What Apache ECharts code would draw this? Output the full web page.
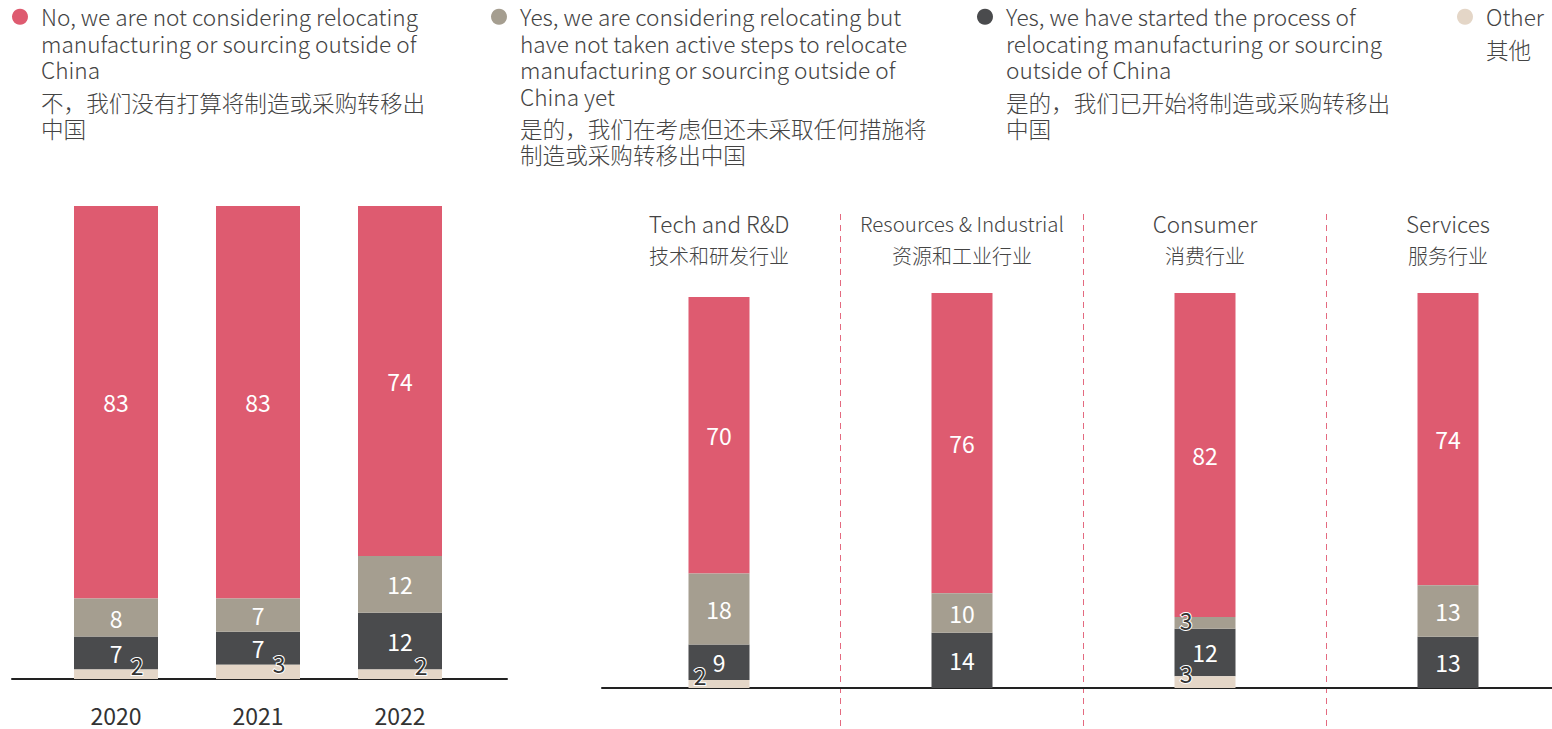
<!DOCTYPE html>
<html>
<head>
<meta charset="utf-8">
<script src="https://cdn.jsdelivr.net/npm/echarts@6/dist/echarts.min.js"></script>
<style>
  html, body { margin: 0; padding: 0; background: #fff; }
  #chart { width: 1552px; height: 729px; }
</style>
</head>
<body>
<div id="chart"></div>
<script>
// series names (legend keys)
const seriesNames = [
  'No, we are not considering relocating manufacturing or sourcing outside of China',
  'Yes, we are considering relocating but have not taken active steps to relocate manufacturing or sourcing outside of China yet',
  'Yes, we have started the process of relocating manufacturing or sourcing outside of China',
  'Other'
];
const legendEn = [
  ['No, we are not considering relocating', 'manufacturing or sourcing outside of', 'China'],
  ['Yes, we are considering relocating but', 'have not taken active steps to relocate', 'manufacturing or sourcing outside of', 'China yet'],
  ['Yes, we have started the process of', 'relocating manufacturing or sourcing', 'outside of China'],
  ['Other']
];
const legendCn = [
  ['不，我们没有打算将制造或采购转移出', '中国'],
  ['是的，我们在考虑但还未采取任何措施将', '制造或采购转移出中国'],
  ['是的，我们已开始将制造或采购转移出', '中国'],
  ['其他']
];

// left panel: by year
const years = ['2020', '2021', '2022'];
const yearNot = [83, 83, 74];
const yearConsidering = [8, 7, 12];
const yearStarted = [7, 7, 12];
const yearOther = [2, 3, 2];

// right panel: by industry
const industryEn = ['Tech and R&D', 'Resources & Industrial', 'Consumer', 'Services'];
const industryCn = ['技术和研发行业', '资源和工业行业', '消费行业', '服务行业'];
const industryNot = [70, 76, 82, 74];
const industryConsidering = [18, 10, 3, 13];
const industryStarted = [9, 14, 12, 13];
const industryOther = [2, 0, 3, 0];

const FONT = '"Noto Sans CJK SC", "Noto Sans", sans-serif';
const colors = ['#de5b70', '#a59e90', '#4a4b4d', '#e4d6c7'];
const textColor = '#444';

const EN_LH = 26.5, GAP_LH = 6, CN_LH = 26;

function makeLegend(i, iconCenterX) {
  const en = legendEn[i], cn = legendCn[i];
  const below = EN_LH * (en.length - 1) + GAP_LH + CN_LH * cn.length;
  const base = { fontFamily: FONT, fontSize: 22.6, fontWeight: 300, color: textColor, padding: [0, 0, 0, 8] };
  return {
    data: [seriesNames[i]],
    left: iconCenterX - 8,
    top: 3 - below / 2,
    padding: 0,
    icon: 'circle',
    itemWidth: 16,
    itemHeight: 16,
    selectedMode: false,
    formatter: () => '{sp| }\n{en|' + en.join('\n') + '}\n{gap| }\n{cn|' + cn.join('\n') + '}',
    textStyle: {
      rich: {
        sp: { fontSize: 1, lineHeight: below },
        en: Object.assign({ lineHeight: EN_LH }, base),
        gap: { fontSize: 1, lineHeight: GAP_LH },
        cn: Object.assign({ lineHeight: CN_LH }, base)
      }
    }
  };
}

function toData(values, smallOffset) {
  return values.map(v => (v > 0 && v < 5)
    ? { value: v, label: { color: '#333', textBorderColor: '#fff', textBorderWidth: 2, offset: smallOffset } }
    : v);
}

function bar(idx, values, xi, yi, width, stack, smallOffset, z) {
  return {
    name: seriesNames[idx],
    type: 'bar',
    stack: stack,
    xAxisIndex: xi,
    yAxisIndex: yi,
    barWidth: width,
    z: z,
    itemStyle: { color: colors[idx] },
    label: {
      show: true,
      position: 'inside',
      color: '#fff',
      fontSize: 23,
      fontFamily: FONT,
      formatter: p => (p.value > 0 ? String(p.value) : '')
    },
    emphasis: { disabled: true },
    data: toData(values, smallOffset)
  };
}

const headerText = { lineHeight: 32, color: textColor, fontFamily: FONT, fontWeight: 300 };
const baseLine = { show: true, lineStyle: { color: '#222', width: 2 } };

const chart = echarts.init(document.getElementById('chart'), null, { renderer: 'svg' });

chart.setOption({
  backgroundColor: '#fff',
  animation: false,
  textStyle: { fontFamily: FONT },
  legend: [
    makeLegend(0, 20),
    makeLegend(1, 499),
    makeLegend(2, 985),
    makeLegend(3, 1465)
  ],
  grid: [
    { left: 45, width: 426, top: 206, bottom: 50, outerBoundsMode: 'none' },        // years
    { left: 597.5, width: 972, top: 293, bottom: 41, outerBoundsMode: 'none' },     // industries
    { left: 12, width: 495, top: 206, bottom: 50, outerBoundsMode: 'none' },        // baseline of years panel
    { left: 597.5, width: 972, top: 214, bottom: 0, outerBoundsMode: 'none' },      // industry dividers
    { left: 602, right: 0, top: 293, bottom: 41, outerBoundsMode: 'none' }          // baseline of industry panel
  ],
  xAxis: [
    {
      type: 'category', gridIndex: 0, data: years,
      axisLine: { show: false }, axisTick: { show: false },
      axisLabel: { margin: 24, fontSize: 23, color: '#333', fontFamily: FONT }
    },
    {
      type: 'category', gridIndex: 1, data: industryEn, position: 'bottom',
      axisLine: { show: false }, axisTick: { show: false }, axisLabel: { show: false }
    },
    {
      type: 'category', gridIndex: 1, data: industryEn, position: 'top',
      axisLine: { show: false }, axisTick: { show: false },
      axisLabel: {
        margin: 22,
        formatter: (v, i) => '{' + (v.length > 15 ? 'enLong' : 'en') + '|' + v + '}\n{cn|' + industryCn[i] + '}',
        rich: {
          en: Object.assign({ fontSize: 22.5 }, headerText),
          enLong: Object.assign({ fontSize: 20.5 }, headerText),
          cn: Object.assign({ fontSize: 20 }, headerText)
        }
      }
    },
    {
      type: 'category', gridIndex: 2, data: [''],
      axisLine: baseLine, axisTick: { show: false }, axisLabel: { show: false }
    },
    {
      type: 'category', gridIndex: 3, data: industryEn,
      axisLine: { show: false }, axisTick: { show: false }, axisLabel: { show: false },
      splitLine: {
        show: true, showMinLine: false, showMaxLine: false,
        lineStyle: { color: '#e46a80', width: 1, type: [6, 5] }
      }
    },
    {
      type: 'category', gridIndex: 4, data: [''],
      axisLine: baseLine, axisTick: { show: false }, axisLabel: { show: false }
    }
  ],
  yAxis: [
    { type: 'value', gridIndex: 0, min: 0, max: 100, show: false },
    { type: 'value', gridIndex: 1, min: 0, max: 100, show: false },
    { type: 'value', gridIndex: 2, min: 0, max: 100, show: false },
    { type: 'value', gridIndex: 3, min: 0, max: 100, show: false },
    { type: 'value', gridIndex: 4, min: 0, max: 100, show: false }
  ],
  series: [
    bar(3, yearOther, 0, 0, 84, 'year', [21, -9], 6),
    bar(2, yearStarted, 0, 0, 84, 'year', [0, 0], 2),
    bar(1, yearConsidering, 0, 0, 84, 'year', [0, 0], 4),
    bar(0, yearNot, 0, 0, 84, 'year', [0, 0], 2),
    bar(3, industryOther, 1, 1, 61, 'ind', [-19, -9], 6),
    bar(2, industryStarted, 1, 1, 61, 'ind', [-19, -3], 2),
    bar(1, industryConsidering, 1, 1, 61, 'ind', [-19, -3], 4),
    bar(0, industryNot, 1, 1, 61, 'ind', [-19, -3], 2)
  ]
});
</script>
</body>
</html>
